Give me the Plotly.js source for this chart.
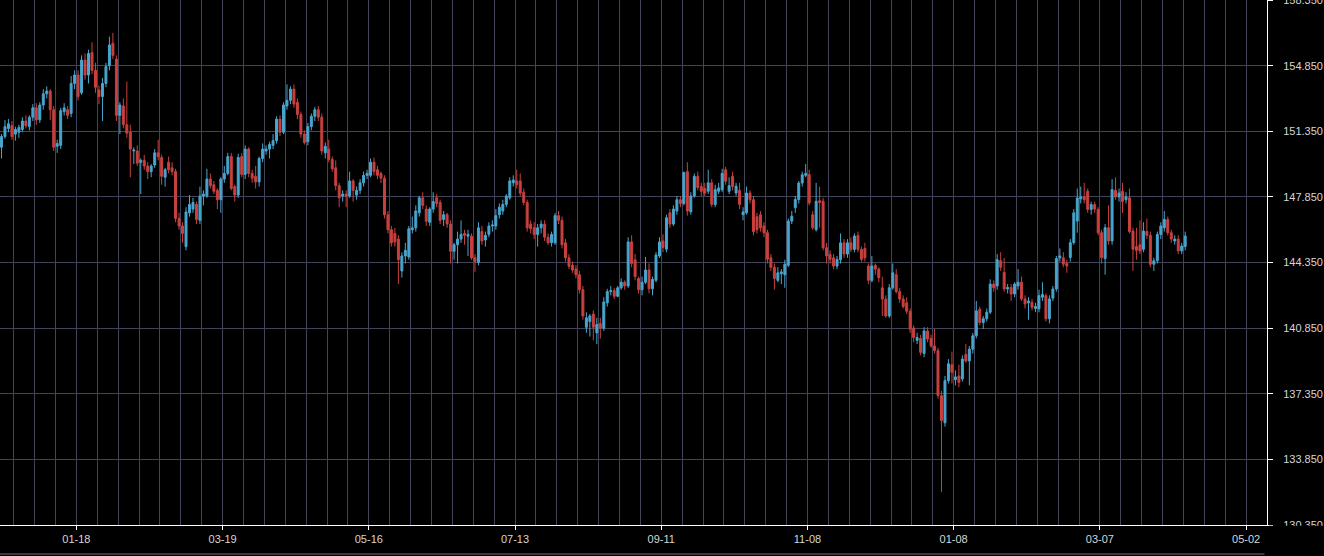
<!DOCTYPE html>
<html>
<head>
<meta charset="utf-8">
<script src="https://cdn.plot.ly/plotly-3.0.1.min.js"></script>
<style>
html,body{margin:0;padding:0;background:#000;}
#chart{width:1324px;height:556px;}
</style>
</head>
<body>
<div id="chart"></div>
<script>
// Tick labels (one every 42 bars)
const tickLabels = ['01-18','03-19','05-16','07-13','09-11','11-08','01-08','03-07','05-02'];

// Daily OHLC values
const openVals = [
150.5,151.07,151.5,151.65,151.2,151.3,151.45,151.9,151.6,152.1,
152.6,151.96,152.75,153.35,153.5,152.5,150.55,150.6,152.4,152.5,
152.3,153.9,154.35,153.4,155.15,154.35,155.55,154.6,153.55,153.2,
153.9,154.85,156.05,155.2,152.2,152.7,151.7,151.3,150.3,150.3,
149.7,149.8,149.5,149.2,149.55,150.2,149.95,148.9,149.7,149.4,
149.2,146.7,146.3,145.2,147.0,147.2,147.45,146.6,147.9,147.9,
148.8,148.5,148.2,147.7,148.8,149.1,150.0,148.4,147.95,150.0,
149.05,150.4,149.1,148.95,148.65,149.9,150.3,150.4,150.6,150.85,
152.0,151.3,152.7,153.0,153.6,152.9,152.25,151.2,150.8,151.6,
152.15,152.5,152.1,150.2,150.4,149.85,149.4,148.45,147.9,148.0,
147.9,148.7,147.95,148.2,148.6,149.0,149.0,149.7,149.3,149.1,
148.85,146.9,146.1,145.9,145.6,143.9,144.7,144.65,146.1,146.2,
147.0,147.8,147.2,146.5,147.2,147.8,147.55,146.65,146.9,146.4,
144.95,145.3,145.6,145.9,145.75,145.75,144.6,144.35,146.0,145.55,
145.85,146.3,146.3,146.9,147.1,147.45,147.8,148.6,148.7,148.7,
148.1,147.55,146.4,146.2,145.85,146.2,146.4,145.7,145.4,145.4,
146.85,146.6,145.4,144.6,144.2,144.0,143.7,142.9,140.9,141.2,
141.6,140.6,141.1,140.85,142.2,142.8,142.85,142.55,143.0,143.3,
143.1,145.45,144.5,143.5,142.9,143.3,143.95,142.95,143.4,144.7,
145.5,145.06,147.0,146.4,147.1,147.7,147.5,149.2,147.05,147.9,
148.95,148.4,148.3,148.15,148.6,147.44,148.15,148.24,149.3,148.15,
148.95,148.06,148.2,146.9,147.0,148.06,147.7,146.8,146.9,146.3,
145.94,144.6,144.1,143.4,143.75,143.7,144.2,146.56,147.27,147.71,
148.59,149.0,149.04,146.9,146.1,147.65,147.62,145.14,144.78,144.6,
144.16,144.5,145.4,144.8,145.4,145.05,145.8,145.05,145.1,144.16,
143.4,144.2,144.0,143.0,142.4,141.5,143.0,143.7,142.8,142.4,
142.2,141.75,140.85,140.2,140.3,139.5,140.7,140.3,139.9,139.65,
137.25,135.8,138.05,138.9,138.1,138.3,138.14,139.45,139.1,139.73,
140.44,141.86,141.15,141.35,141.7,143.2,143.1,144.45,143.82,142.94,
143.02,142.67,143.1,143.3,142.41,142.2,142.23,141.9,141.88,142.5,
142.58,141.35,142.45,142.94,144.6,144.6,144.3,144.62,145.41,146.56,
147.75,147.85,148.15,147.18,147.44,147.18,145.94,144.56,146.21,145.5,
148.2,147.85,148.15,147.7,147.8,146.03,145.2,145.3,145.06,146.0,
145.8,144.26,144.44,145.85,146.2,146.65,145.94,145.5,145.6,144.97,
145.2];

const highVals = [
151.2,151.95,152.0,151.9,151.6,151.7,152.1,152.2,152.2,152.8,
152.85,152.9,153.6,153.75,153.6,152.7,150.9,152.6,152.85,152.7,
154.3,154.6,154.6,155.4,155.5,155.7,156.1,155.0,153.8,154.2,
155.0,156.4,156.6,155.4,152.9,153.1,154.0,151.7,150.5,150.6,
149.9,150.1,149.7,149.6,150.4,150.9,150.1,149.4,150.0,149.7,
149.35,147.0,146.5,147.3,147.95,147.8,147.6,148.4,148.2,149.35,
149.1,148.7,148.3,148.9,149.5,150.2,150.2,148.5,150.15,150.2,
150.6,150.5,149.3,149.5,150.0,150.7,150.6,150.8,151.2,152.15,
152.2,152.9,153.85,153.75,153.85,153.1,152.4,151.4,151.8,152.3,
152.65,152.7,152.3,150.75,150.9,150.0,149.8,148.6,148.2,148.2,
149.2,148.8,148.4,148.8,149.2,149.3,149.9,149.95,149.5,149.2,
149.0,147.1,146.3,146.2,145.8,144.9,145.4,146.3,146.8,147.4,
147.9,148.1,147.4,147.3,148.1,148.0,147.7,147.1,147.0,146.6,
145.4,146.0,146.6,146.1,146.1,145.9,144.8,146.5,146.3,146.0,
146.5,146.6,147.2,147.5,147.7,148.0,148.9,149.0,149.3,149.1,
148.3,147.7,146.6,146.5,146.4,146.6,146.6,145.9,146.0,147.0,
147.1,146.8,145.6,144.8,144.4,144.2,143.9,143.1,141.7,141.6,
141.8,141.4,141.4,142.5,142.95,143.1,143.0,143.1,143.5,143.4,
145.7,145.8,144.8,143.6,143.6,144.65,144.3,143.6,144.9,145.7,
145.85,146.9,147.2,147.4,147.9,147.9,149.2,149.7,148.1,149.1,
149.2,148.6,148.6,149.3,148.8,148.5,148.6,149.35,149.45,148.9,
149.2,148.6,148.6,147.3,148.4,148.2,147.9,147.0,147.1,146.5,
146.1,144.8,144.3,144.1,144.0,144.5,146.7,147.1,147.9,148.7,
149.2,149.6,149.3,147.1,148.6,148.4,147.8,145.4,145.0,144.8,
144.7,145.9,145.6,145.6,145.7,145.9,146.0,145.2,145.4,144.3,
144.7,144.3,144.1,143.6,142.6,143.2,144.3,144.0,143.0,142.6,
142.5,141.9,141.0,140.6,140.5,140.9,140.9,140.5,140.8,139.8,
137.5,138.3,139.2,139.6,138.6,138.9,139.4,140.0,139.9,140.6,
142.3,142.0,141.5,141.9,143.45,143.4,144.8,144.9,144.6,143.2,
143.2,143.3,144.0,143.6,142.6,142.5,142.4,142.2,142.9,143.3,
142.7,142.6,143.1,144.7,145.1,144.9,144.5,145.6,147.2,148.3,
148.4,148.6,148.3,147.6,147.6,147.3,146.1,146.4,147.4,148.8,
148.9,148.3,148.6,148.1,148.3,146.2,146.2,146.6,146.5,146.7,
146.0,144.6,146.0,146.5,147.1,146.8,146.1,145.8,145.8,145.4,
146.0];

const lowVals = [
149.9,150.95,151.3,150.9,150.85,151.0,151.3,151.5,151.4,151.9,
151.7,151.8,152.5,153.1,151.95,150.3,150.2,150.4,152.2,152.0,
152.1,153.6,153.0,153.3,154.1,153.9,154.4,153.4,152.8,151.9,
153.7,154.6,155.2,151.9,151.2,151.5,151.0,148.9,149.6,149.5,
148.0,149.3,148.8,148.9,149.4,149.8,148.5,148.4,149.1,149.0,
146.5,146.1,145.4,145.0,146.8,147.0,146.4,146.4,147.4,147.8,
148.3,148.0,147.2,147.0,148.6,149.0,148.2,147.6,147.8,148.9,
148.8,148.9,148.6,148.3,148.4,149.7,150.1,149.9,150.4,150.7,
151.1,151.2,152.5,152.8,152.6,152.0,151.0,150.65,150.6,151.4,
151.9,151.9,150.1,149.9,149.7,149.2,148.2,147.3,147.6,147.3,
147.8,147.6,147.7,148.0,148.4,148.8,148.9,149.0,148.8,148.6,
146.7,145.9,145.2,145.2,143.2,143.55,144.3,144.5,145.9,146.0,
146.8,147.2,146.3,146.3,147.0,147.3,146.4,146.3,146.2,144.3,
144.5,144.3,145.4,145.3,144.7,144.5,143.85,144.2,145.3,145.2,
145.7,146.0,146.1,146.7,146.9,147.3,147.7,148.4,148.3,147.9,
147.4,146.0,145.9,145.6,145.2,145.9,145.5,145.3,145.2,145.3,
146.4,145.1,144.4,144.0,143.8,143.5,142.7,141.3,140.6,140.4,
140.2,140.0,140.3,140.7,142.0,142.6,142.4,142.5,142.9,142.9,
143.0,144.1,143.4,142.7,142.6,143.2,142.7,142.6,143.3,144.6,
144.9,144.9,146.2,146.3,146.9,147.3,147.4,146.85,146.9,147.8,
148.2,147.9,147.9,148.0,147.3,147.3,148.0,148.1,148.5,148.0,
148.2,147.9,147.2,146.6,146.9,147.5,145.8,145.9,146.0,145.7,
144.3,143.9,142.9,143.3,143.2,143.0,144.1,146.4,147.0,147.5,
148.4,148.9,147.4,146.1,146.0,146.2,145.0,144.3,144.3,143.99,
144.0,144.3,144.6,144.6,144.9,144.9,144.9,144.4,144.4,143.2,
143.3,143.7,143.3,141.5,141.4,141.4,142.9,142.7,142.2,141.9,
141.6,140.6,140.1,140.0,139.4,139.3,140.1,139.8,139.5,137.1,
132.1,135.6,137.9,137.9,137.8,137.7,138.0,139.0,137.8,139.5,
140.3,141.0,140.8,141.2,141.6,142.8,142.9,143.9,142.8,142.7,
142.3,142.5,142.9,142.3,141.9,141.3,141.8,141.7,141.7,142.3,
141.2,141.1,142.3,142.8,144.4,144.1,143.8,144.4,145.3,145.94,
147.5,147.5,147.0,146.9,147.0,145.8,144.3,143.7,145.3,145.3,
147.7,147.6,147.0,147.5,145.9,143.9,144.5,144.8,144.9,145.6,
144.1,143.9,144.3,145.6,146.0,145.8,145.4,145.3,144.8,144.8,
145.0];

const closeVals = [
151.07,151.6,151.75,151.07,151.45,151.55,151.9,151.65,152.1,152.6,
151.96,152.75,153.35,153.5,152.5,150.5,150.7,152.45,152.6,152.2,
153.9,154.35,153.2,155.15,154.35,155.5,154.6,153.7,153.2,153.9,
154.8,155.95,155.4,152.2,152.75,151.7,151.25,150.4,150.35,149.65,
149.8,149.5,149.2,149.5,150.2,150.0,148.95,149.3,149.3,149.2,
146.7,146.3,145.9,147.05,147.45,147.55,146.65,147.9,148.0,148.8,
148.45,148.15,147.7,148.8,149.1,150.0,148.3,147.95,149.95,149.05,
150.4,149.1,148.85,148.65,149.9,150.4,150.4,150.65,150.85,152.0,
151.3,152.75,153.0,153.6,152.8,152.25,151.2,150.75,151.6,152.15,
152.5,152.1,150.3,150.55,149.85,149.35,148.45,147.8,148.0,147.9,
148.7,148.2,148.2,148.6,149.0,149.1,149.7,149.2,149.0,148.85,
146.9,146.1,145.4,145.45,144.5,144.7,145.0,146.15,146.2,147.1,
147.8,147.4,146.55,147.2,147.6,147.5,146.6,146.9,146.4,144.95,
145.3,145.6,145.85,145.8,145.85,144.6,144.4,146.2,145.5,145.8,
146.3,146.35,146.85,147.3,147.45,147.9,148.7,148.75,148.5,148.05,
147.55,146.2,146.15,145.85,146.2,146.4,145.7,145.4,145.85,146.85,
146.6,145.3,144.6,144.15,143.95,143.7,142.9,141.5,141.4,141.5,
140.9,141.05,140.85,142.25,142.8,142.85,142.55,143.0,143.3,143.1,
145.45,144.3,143.6,142.9,143.3,143.95,142.95,143.45,144.75,145.45,
145.15,146.74,146.4,147.2,147.7,147.5,149.15,147.1,147.9,148.95,
148.35,148.15,148.05,148.6,147.45,148.24,148.33,149.1,148.68,148.45,
148.4,148.42,147.45,147.05,148.06,147.7,146.0,146.1,146.2,145.94,
144.53,144.1,143.5,143.8,143.85,144.26,146.56,146.82,147.71,148.59,
149.03,149.1,147.53,146.2,147.62,147.55,145.14,144.7,144.52,144.16,
144.52,145.4,144.8,145.4,145.05,145.76,145.05,144.52,144.6,143.4,
144.16,144.0,143.54,142.4,141.5,143.0,143.8,142.8,142.4,142.0,
141.75,140.8,140.35,140.35,139.56,140.7,140.27,139.9,139.65,137.25,
135.92,138.05,138.95,138.5,138.25,137.96,139.2,139.1,139.73,140.44,
141.77,141.15,141.35,141.7,143.2,143.0,144.5,144.1,142.94,143.02,
142.67,143.2,143.3,142.41,142.14,142.3,141.96,142.0,142.58,142.65,
141.35,142.41,142.94,144.56,144.7,144.26,144.17,145.41,147.0,147.79,
147.85,147.7,147.18,147.44,147.2,145.94,144.62,146.21,145.5,148.24,
147.85,148.06,147.6,147.85,146.0,145.06,145.0,144.97,146.03,145.8,
144.26,144.44,145.85,146.3,146.65,145.94,145.6,145.6,144.97,145.23,
145.76];

// Bar positions (trading-day index)
const barIndex = closeVals.map((_, i) => i);

const BARS_PER_TICK = 42;
const FIRST_TICK = 21.5;
const tickPositions = tickLabels.map((_, k) => FIRST_TICK + k * BARS_PER_TICK);

const GRID = '#414358';
const UP = '#48a6cf';
const DOWN = '#c9403f';

const trace = {
  type: 'candlestick',
  x: barIndex,
  open: openVals,
  high: highVals,
  low: lowVals,
  close: closeVals,
  increasing: {line: {color: UP, width: 1}, fillcolor: UP},
  decreasing: {line: {color: DOWN, width: 1}, fillcolor: DOWN},
  whiskerwidth: 0,
  hoverinfo: 'skip',
  showlegend: false
};

const layout = {
  width: 1324,
  height: 556,
  margin: {l: 0, r: 57, t: 0, b: 31, pad: 0},
  paper_bgcolor: '#000',
  plot_bgcolor: '#000',
  showlegend: false,
  hovermode: false,
  dragmode: false,
  boxgap: 0.2,
  font: {family: 'Liberation Sans, Arial, Helvetica, sans-serif', size: 11, color: '#d6d6d6'},
  xaxis: {
    type: 'linear',
    range: [-0.43, 363.5],
    tickmode: 'array',
    tickvals: tickPositions,
    ticktext: tickLabels,
    showgrid: true,
    gridcolor: GRID,
    gridwidth: 1,
    zeroline: false,
    showline: true,
    linecolor: '#ffffff',
    linewidth: 1,
    ticks: 'outside',
    ticklen: 4,
    tickwidth: 1,
    tickcolor: '#ffffff',
    tickfont: {size: 11, color: '#d6d6d6'},
    minor: {
      tickmode: 'linear',
      tick0: FIRST_TICK,
      dtick: 6,
      showgrid: true,
      gridcolor: GRID,
      gridwidth: 1,
      ticks: ''
    },
    rangeslider: {visible: false},
    fixedrange: true
  },
  yaxis: {
    side: 'right',
    range: [130.35, 158.353],
    tickmode: 'linear',
    tick0: 130.35,
    dtick: 3.5,
    tickformat: '.3f',
    showgrid: true,
    gridcolor: GRID,
    gridwidth: 1,
    zeroline: false,
    showline: true,
    linecolor: '#ffffff',
    linewidth: 1,
    ticks: 'outside',
    ticklen: 5,
    tickwidth: 1,
    tickcolor: '#ffffff',
    ticklabelstandoff: 8,
    ticklabeloverflow: 'allow',
    tickfont: {size: 11, color: '#d6d6d6'},
    fixedrange: true
  },
  shapes: [
    {type: 'line', xref: 'paper', yref: 'paper', x0: 0, x1: 0.998, y0: -0.0552, y1: -0.0552,
     line: {color: '#3a3a3a', width: 2}, layer: 'above'},
    {type: 'rect', xref: 'paper', yref: 'paper', x0: 1.0015, x1: 1.1, y0: -0.0015, y1: -0.05,
     fillcolor: '#000', line: {width: 0}, layer: 'above'}
  ]
};

Plotly.newPlot('chart', [trace], layout, {displayModeBar: false, staticPlot: true});
</script>
</body>
</html>
